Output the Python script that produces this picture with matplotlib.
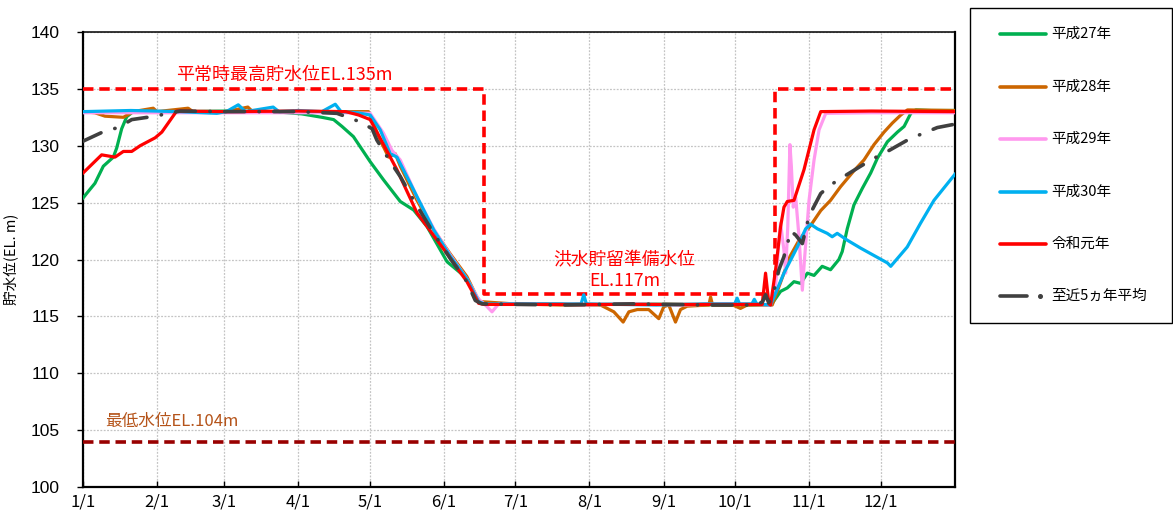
import matplotlib
matplotlib.use("Agg")
import matplotlib.pyplot as plt
from matplotlib.lines import Line2D
from matplotlib.patches import Rectangle

plt.rcParams['font.family'] = ['Noto Sans CJK JP', 'DejaVu Sans']

# ---------------- data ----------------
month_ticks = [0, 31, 59, 90, 120, 151, 181, 212, 243, 273, 304, 334]
month_labels = ["1/1", "2/1", "3/1", "4/1", "5/1", "6/1", "7/1", "8/1", "9/1", "10/1", "11/1", "12/1"]
y_ticks = [100, 105, 110, 115, 120, 125, 130, 135, 140]

series_names = ["平成27年", "平成28年", "平成29年", "平成30年", "令和元年", "至近5ヵ年平均"]

h27_day = [0, 1.5, 5, 8.5, 12.7, 14.1, 16.2, 18.3, 21, 40, 60, 80, 91.6, 100, 104.9, 108.4,
           113.2, 120.2, 125.8, 132.8, 138.4, 144, 152.4, 160.7, 165.6, 168, 190, 210, 230,
           250, 270, 286, 288.5, 292, 294.8, 297.6, 300.4, 303.2, 306, 309.4, 312.9, 316.4,
           317.8, 319.9, 322.7, 326.2, 329.7, 332.5, 336.7, 340.9, 343.7, 346.5, 348.6, 355, 365]
h27_lvl = [125.4, 125.8, 126.7, 128.2, 129.0, 129.8, 131.5, 132.55, 133.0, 133.0, 133.05, 133.0,
           132.8, 132.5, 132.3, 131.7, 130.8, 128.6, 127.0, 125.1, 124.35, 122.9, 119.8, 118.35,
           116.3, 116.05, 116.1, 116.0, 116.1, 116.05, 116.0, 116.0, 116.15, 117.2, 117.5,
           118.05, 117.9, 118.8, 118.6, 119.4, 119.1, 120.0, 120.7, 122.7, 124.8, 126.25,
           127.6, 128.9, 130.35, 131.2, 131.7, 132.85, 133.15, 133.1, 133.1]

h28_day = [0, 5, 9.2, 16.9, 21, 29.4, 31, 44, 46, 60, 69, 71, 90, 110, 119.5, 124.4, 127.9,
           130.7, 132.8, 139.8, 146.8, 153.7, 160.7, 164.9, 166.3, 180, 200, 216.6, 222.2,
           226.1, 228.5, 232, 236.8, 241, 243.1, 245.2, 248, 250.1, 252.9, 262, 262.7, 263.5,
           272, 275.2, 278, 286, 288.5, 292, 296, 300, 304.6, 308.8, 312.9, 317.1, 322.7,
           326.9, 331.1, 335.3, 338.8, 342.3, 345.1, 365]
h28_lvl = [133.0, 132.9, 132.6, 132.5, 133.0, 133.3, 133.0, 133.3, 133.0, 133.0, 133.4, 133.0,
           133.0, 133.0, 133.0, 130.5, 129.0, 129.3, 128.2, 125.2, 122.6, 120.5, 118.5, 116.7,
           116.3, 116.1, 116.0, 116.0, 115.4, 114.5, 115.4, 115.6, 115.6, 114.8, 115.85,
           116.0, 114.5, 115.6, 115.9, 116.0, 116.7, 116.0, 116.0, 115.7, 116.0, 116.0, 116.0,
           118.0, 120.3, 121.8, 123.0, 124.3, 125.2, 126.4, 127.8, 128.75, 130.1, 131.2,
           132.0, 132.7, 133.15, 133.1]

h29_day = [0, 30, 60, 90, 110, 120.2, 125.8, 129.3, 132.8, 139.8, 146.8, 153.7, 160.7, 165.6,
           168, 171.2, 174, 190, 210, 230, 250, 270, 287.8, 289.9, 291.3, 292, 293.4, 294.1,
           295, 295.9, 296.5, 297.3, 298.3, 299.7, 301.1, 302, 303.9, 306, 308.1, 310.9, 330, 365]
h29_lvl = [132.9, 132.9, 132.9, 132.9, 132.9, 132.85, 131.1, 129.6, 128.75, 125.5, 122.7,
           120.4, 118.3, 116.5, 116.1, 115.4, 116.1, 116.1, 116.0, 116.1, 116.0, 116.1, 116.0,
           117.6, 121.7, 123.2, 120.8, 118.8, 122.9, 130.1, 128.2, 124.6, 125.5, 122.0, 117.3,
           120.0, 125.2, 128.75, 131.4, 132.85, 132.9, 132.9]

h30_day = [0, 20, 40, 56, 60, 65, 68, 79.6, 82, 90, 100, 105.6, 108, 115, 120.2, 124.4, 128.6,
           131.4, 137, 146.8, 153.7, 160.7, 165.6, 168, 190, 208.5, 209.6, 210.7, 240, 260,
           272.8, 273.8, 274.8, 280, 281, 282, 287.8, 293.4, 299, 302.5, 304.6, 307.4, 311.5,
           313.6, 315.7, 319.9, 325.5, 336.7, 338.1, 345, 350.6, 356.2, 365]
h30_lvl = [133.0, 133.1, 133.0, 132.85, 133.0, 133.6, 133.0, 133.4, 133.0, 133.1, 133.0, 133.65,
           133.0, 132.9, 132.7, 131.4, 129.3, 129.0, 126.7, 122.6, 120.3, 118.3, 116.3, 116.1,
           116.1, 116.1, 116.9, 116.1, 116.0, 116.1, 116.1, 116.6, 116.1, 116.1, 116.5, 116.1,
           116.0, 118.8, 121.1, 122.7, 123.1, 122.7, 122.3, 122.0, 122.3, 121.7, 121.0, 119.7,
           119.4, 121.1, 123.2, 125.2, 127.5]

r1_day = [0, 7.8, 13.4, 16.9, 20.4, 23.9, 30.2, 33, 39.2, 60, 90, 110, 115.4, 120.2, 131.4,
          139.8, 152.4, 160.7, 165.6, 168, 200, 230, 260, 284.3, 285.7, 287.1, 287.8, 289.9,
          292, 293.4, 294.8, 297.6, 301.8, 306, 308.8, 330, 365]
r1_lvl = [127.6, 129.2, 129.0, 129.5, 129.5, 130.0, 130.7, 131.2, 133.05, 133.0, 133.05, 133.0,
          132.7, 132.3, 127.9, 124.1, 120.5, 118.05, 116.15, 116.05, 116.05, 116.05, 116.05,
          116.05, 118.8, 116.1, 116.0, 119.1, 122.9, 124.6, 125.1, 125.2, 127.9, 131.4, 133.0,
          133.05, 133.0]

avg_day = [0, 9.2, 14.8, 20.4, 30.2, 35.7, 40.6, 60, 90, 106.3, 116, 121, 123, 128.6, 132.8,
           138.4, 146.8, 153.7, 160.7, 164.2, 167, 200, 230, 260, 282, 284.5, 285.7, 287,
           288.5, 291.3, 293.4, 294.8, 296.2, 298.3, 301.1, 303.9, 305.2, 308.8, 312.9, 318.5,
           325.5, 331.1, 336.7, 345.1, 350.6, 357.6, 365]
avg_lvl = [130.4, 131.3, 131.6, 132.3, 132.6, 132.85, 133.05, 133.0, 133.0, 132.85, 132.1,
           131.5, 130.5, 128.6, 127.3, 125.2, 122.3, 120.1, 118.05, 116.4, 116.1, 116.0, 116.1,
           116.0, 116.0, 116.3, 116.9, 116.2, 116.6, 119.1, 120.25, 121.3, 122.5, 122.15,
           121.4, 123.8, 124.35, 125.8, 126.55, 127.3, 128.2, 128.9, 129.5, 130.5, 131.0,
           131.6, 131.9]

normal_high_level = 135      # 平常時最高貯水位
flood_prep_level = 117       # 洪水貯留準備水位
min_level = 104              # 最低水位
flood_start_day = 168
flood_end_day = 289.5

colors = ["#00B050", "#CC6600", "#FF99EE", "#00B0F0", "#FF0000", "#404040"]

# ---------------- figure ----------------
W, H = 1173, 519
fig = plt.figure(figsize=(W / 100, H / 100), dpi=100)
ax = fig.add_axes([83 / W, (H - 487) / H, (955 - 83) / W, (487 - 32) / H])

ax.set_xlim(0, 365)
ax.set_ylim(100, 140)

# grid
ax.set_xticks(month_ticks)
ax.set_yticks(y_ticks)
ax.grid(True, color="#c4c4c4", linestyle=(0, (1.5, 1.2)), linewidth=0.9, zorder=0)

# reference lines
ax.plot([0, flood_start_day, flood_start_day, flood_end_day, flood_end_day, 365],
        [normal_high_level, normal_high_level, flood_prep_level, flood_prep_level,
         normal_high_level, normal_high_level],
        color="#FF0000", lw=2.6, linestyle=(0, (2.9, 1.6)), zorder=3)
ax.plot([0, 365], [min_level, min_level], color="#990000", lw=2.6,
        linestyle=(0, (2.9, 1.6)), zorder=3)

# series
series = [(h27_day, h27_lvl), (h28_day, h28_lvl), (h29_day, h29_lvl),
          (h30_day, h30_lvl), (r1_day, r1_lvl)]
for i, (d, v) in enumerate(series):
    ax.plot(d, v, color=colors[i], lw=2.3, solid_joinstyle="round", zorder=4 + i)
ax.plot(avg_day, avg_lvl, color=colors[5], lw=2.6,
        linestyle=(0, (5.5, 4.0, 0.1, 4.0)), dash_capstyle="round", zorder=10)

# annotations
ax.text(84.2, 136.2, "平常時最高貯水位EL.135m", color="#FF0000", fontsize=13,
        ha="center", va="center", zorder=11)
ax.text(226.6, 119.9, "洪水貯留準備水位", color="#FF0000", fontsize=12.8,
        ha="center", va="center", zorder=11)
ax.text(226.6, 118.1, "EL.117m", color="#FF0000", fontsize=12.8,
        ha="center", va="center", zorder=11)
ax.text(9.2, 105.75, "最低水位EL.104m", color="#B5541A", fontsize=12,
        ha="left", va="center", zorder=11)

# ticks / labels
ax.set_xticklabels(month_labels, fontsize=12, family=["Noto Sans CJK JP", "DejaVu Sans"])
ax.set_yticklabels([str(t) for t in y_ticks], fontsize=12.5,
                   family=["Liberation Sans", "DejaVu Sans"])
ax.tick_params(axis="x", direction="in", length=4, width=1, pad=5)
ax.tick_params(axis="y", direction="out", length=4, width=1, pad=13)
ax.set_ylabel("貯水位(EL. m)", fontsize=10.5)
ax.yaxis.set_label_coords((18 - 83) / (955 - 83), 0.5)

for side in ["left", "bottom", "right"]:
    ax.spines[side].set_linewidth(1.6)
    ax.spines[side].set_color("black")
ax.spines["top"].set_linewidth(1.1)
ax.spines["top"].set_color("black")

# manual legend
fig.add_artist(Rectangle((970 / W, (H - 323) / H), (1172 - 970) / W, (323 - 8) / H,
                         transform=fig.transFigure, fill=False, edgecolor="black", lw=1.0))
leg_y = [34, 87, 139, 192, 244, 296]
for i, name in enumerate(series_names):
    yy = 1 - leg_y[i] / H
    if i < 5:
        fig.add_artist(Line2D([1000 / W, 1046 / W], [yy, yy], transform=fig.transFigure,
                              color=colors[i], lw=2.6, solid_capstyle="round"))
    else:
        fig.add_artist(Line2D([1000 / W, 1027 / W], [yy, yy], transform=fig.transFigure,
                              color=colors[i], lw=2.6, solid_capstyle="round"))
        fig.add_artist(Line2D([1040 / W], [yy], transform=fig.transFigure, marker="o",
                              markersize=2.6, color=colors[i], lw=0))
    fig.text(1051 / W, yy, name, fontsize=10.5, va="center", ha="left")

fig.savefig("out.png", dpi=100)
